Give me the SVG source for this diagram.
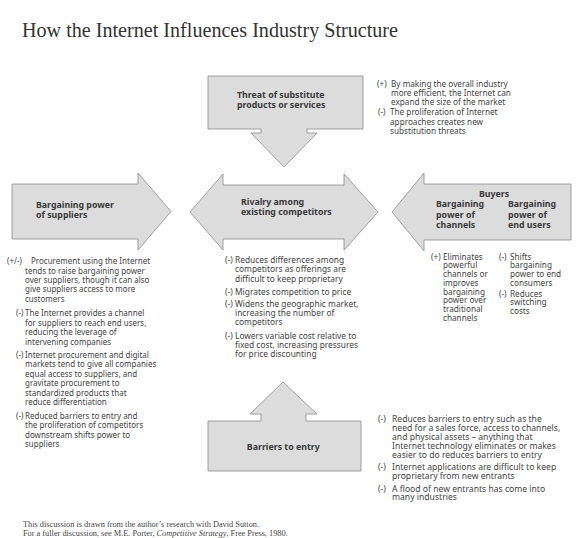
<svg xmlns="http://www.w3.org/2000/svg" width="585" height="538" viewBox="0 0 585 538">
<style>
.bg{fill:#ffffff}
.arrow{fill:#dcdcdc;stroke:#8c8c8c;stroke-width:0.8}
.title{font-family:"Liberation Serif","DejaVu Serif",serif;font-size:20px;fill:#333}
.lab{font-family:"Noto Sans","Open Sans",sans-serif;font-size:8.8px;font-weight:bold;fill:#3a3a3a}
.txt{font-family:"Noto Sans","Open Sans",sans-serif;fill:#444}
.foot{font-family:"Liberation Serif","DejaVu Serif",serif;font-size:8.3px;fill:#444}
</style>
<rect class="bg" x="0" y="0" width="585" height="538"/>
<text class="title" x="22" y="37" textLength="376" lengthAdjust="spacingAndGlyphs">How the Internet Influences Industry Structure</text>

<g id="connectors"></g>

<g id="substitutes">
<path class="arrow" d="M208,76 H363 V129 H307 V133 H317 L284,167 L251,133 H261 V129 H208 Z"/>
<text class="lab" x="237" y="98">Threat of substitute</text>
<text class="lab" x="237" y="107.6">products or services</text>
</g>
<g id="substitutes-notes" class="txt" style="font-size:8.2px">
<text x="377" y="87">(+)</text><text x="391" y="87">By making the overall industry</text>
<text x="391" y="95.8">more efficient, the Internet can</text>
<text x="391" y="104.8">expand the size of the market</text>
<text x="378" y="115.3">(-)</text><text x="390" y="115.3">The proliferation of Internet</text>
<text x="390" y="124.5">approaches creates new</text>
<text x="390" y="133.7">substitution threats</text>
</g>

<g id="suppliers">
<path class="arrow" d="M12,184 H138 V173 L171,211.5 L138,250 V239 H12 Z"/>
<text class="lab" x="36" y="208">Bargaining power</text>
<text class="lab" x="36" y="217.5">of suppliers</text>
</g>
<g id="suppliers-notes" class="txt" style="font-size:8px">
<text x="7" y="263.7">(+/-)</text><text x="31" y="263.7">Procurement using the Internet</text>
<text x="25" y="273.7">tends to raise bargaining power</text>
<text x="25" y="283">over suppliers, though it can also</text>
<text x="25" y="292.3">give suppliers access to more</text>
<text x="25" y="302">customers</text>
<text x="16" y="316.3">(-)</text><text x="25" y="316.3">The Internet provides a channel</text>
<text x="25" y="325.7">for suppliers to reach end users,</text>
<text x="25" y="335.3">reducing the leverage of</text>
<text x="25" y="344.7">intervening companies</text>
<text x="16" y="358">(-)</text><text x="25" y="358">Internet procurement and digital</text>
<text x="25" y="367.3">markets tend to give all companies</text>
<text x="25" y="376.7">equal access to suppliers, and</text>
<text x="25" y="386.3">gravitate procurement to</text>
<text x="25" y="395.7">standardized products that</text>
<text x="25" y="405.3">reduce differentiation</text>
<text x="16" y="419">(-)</text><text x="25" y="419">Reduced barriers to entry and</text>
<text x="25" y="428.3">the proliferation of competitors</text>
<text x="25" y="438">downstream shifts power to</text>
<text x="25" y="447.3">suppliers</text>
</g>

<g id="rivalry">
<path class="arrow" d="M190,212 L223,174 V185 H344 V174 L378,212 L344,250 V239 H223 V250 Z"/>
<text class="lab" x="241" y="205">Rivalry among</text>
<text class="lab" x="241" y="214.5">existing competitors</text>
</g>
<g id="rivalry-notes" class="txt" style="font-size:8.4px">
<text x="225" y="263">(-)</text><text x="235" y="263">Reduces differences among</text>
<text x="235" y="272.4">competitors as offerings are</text>
<text x="235" y="281.8">difficult to keep proprietary</text>
<text x="225" y="295.3">(-)</text><text x="235" y="295.3">Migrates competition to price</text>
<text x="225" y="306.5">(-)</text><text x="235" y="306.5">Widens the geographic market,</text>
<text x="235" y="315.9">increasing the number of</text>
<text x="235" y="325.2">competitors</text>
<text x="225" y="338.7">(-)</text><text x="235" y="338.7">Lowers variable cost relative to</text>
<text x="235" y="348.1">fixed cost, increasing pressures</text>
<text x="235" y="357.4">for price discounting</text>
</g>

<g id="buyers">
<path class="arrow" d="M392,212 L424,173 V184 H571 V240 H424 V251 Z"/>
<text class="lab" x="494" y="196.7" text-anchor="middle">Buyers</text>
<text class="lab" x="436" y="207.3">Bargaining</text>
<text class="lab" x="436" y="217.7">power of</text>
<text class="lab" x="436" y="228.3">channels</text>
<text class="lab" x="508" y="207.3">Bargaining</text>
<text class="lab" x="508" y="217.7">power of</text>
<text class="lab" x="508" y="228.3">end users</text>
</g>
<g id="buyers-notes" class="txt" style="font-size:8.2px">
<text x="431" y="259.7">(+)</text><text x="443" y="259.7">Eliminates</text>
<text x="443" y="268.4">powerful</text>
<text x="443" y="277.1">channels or</text>
<text x="443" y="285.8">improves</text>
<text x="443" y="294.5">bargaining</text>
<text x="443" y="303.2">power over</text>
<text x="443" y="311.9">traditional</text>
<text x="443" y="320.6">channels</text>
<text x="499" y="259.7">(-)</text><text x="510" y="259.7">Shifts</text>
<text x="510" y="268.4">bargaining</text>
<text x="510" y="277.1">power to end</text>
<text x="510" y="285.8">consumers</text>
<text x="499" y="296.5">(-)</text><text x="510" y="296.5">Reduces</text>
<text x="510" y="305.2">switching</text>
<text x="510" y="313.9">costs</text>
</g>

<g id="barriers">
<path class="arrow" d="M283,382 L317,414 H306 V421 H361 V471 H208 V421 H261 V414 H250 Z"/>
<text class="lab" x="283.3" y="450" text-anchor="middle">Barriers to entry</text>
</g>
<g id="barriers-notes" class="txt" style="font-size:8.6px">
<text x="378" y="422.3">(-)</text><text x="392" y="422.3">Reduces barriers to entry such as the</text>
<text x="392" y="431.2">need for a sales force, access to channels,</text>
<text x="392" y="440.1">and physical assets – anything that</text>
<text x="392" y="449">Internet technology eliminates or makes</text>
<text x="392" y="457.9">easier to do reduces barriers to entry</text>
<text x="378" y="470.2">(-)</text><text x="392" y="470.2">Internet applications are difficult to keep</text>
<text x="392" y="479.1">proprietary from new entrants</text>
<text x="378" y="491.5">(-)</text><text x="392" y="491.5">A flood of new entrants has come into</text>
<text x="392" y="500.4">many industries</text>
</g>

<g id="footnote" class="foot">
<text x="23" y="526.5">This discussion is drawn from the author’s research with David Sutton.</text>
<text x="23" y="536">For a fuller discussion, see M.E. Porter, <tspan font-style="italic">Competitive Strategy</tspan>, Free Press, 1980.</text>
</g>
</svg>
